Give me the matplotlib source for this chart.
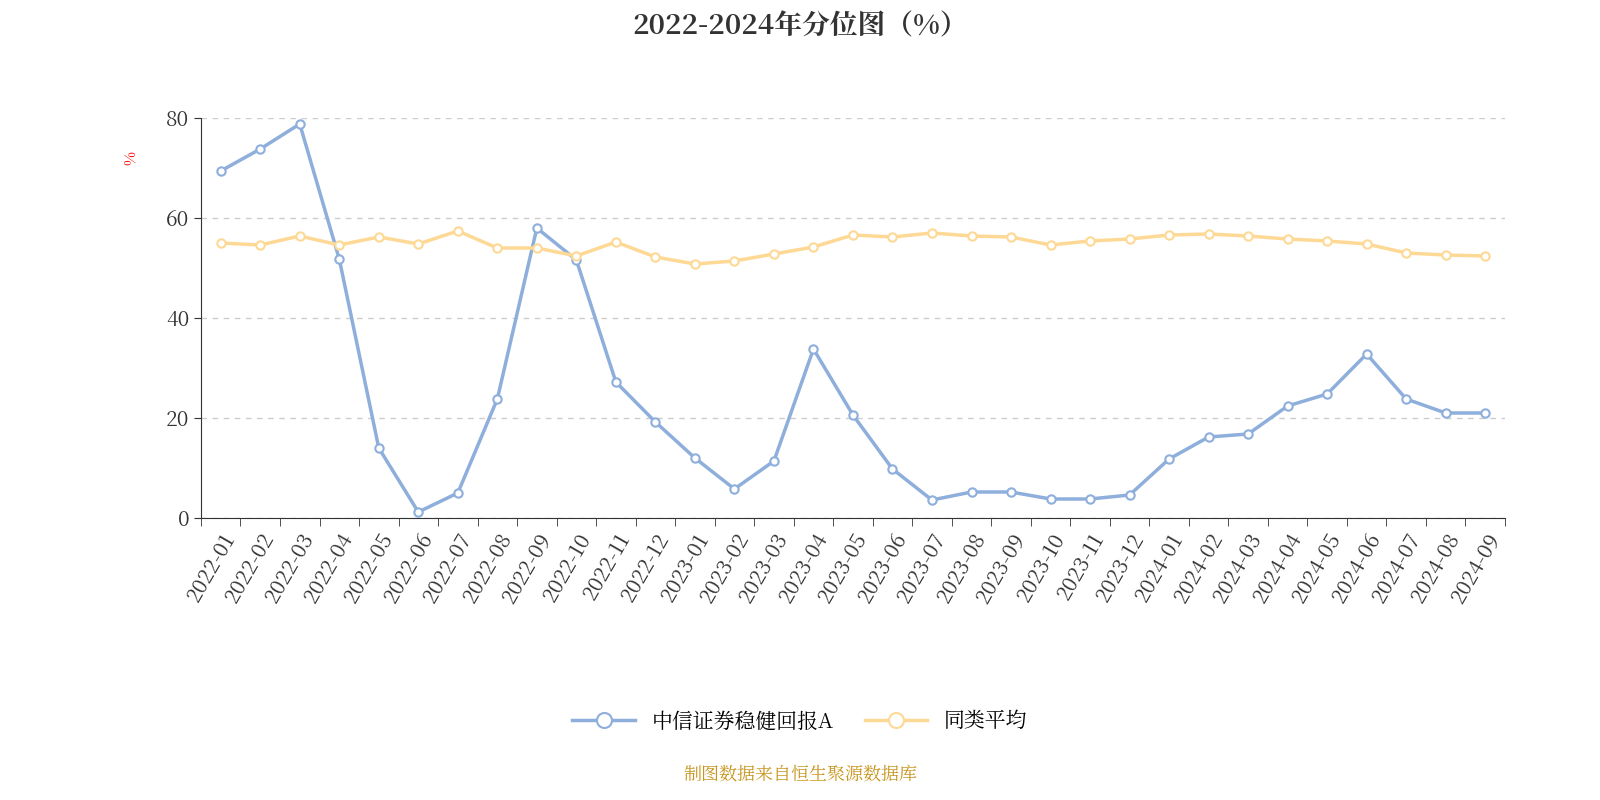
import matplotlib.pyplot as plt
from matplotlib import font_manager
import numpy as np

# pick whatever CJK font is installed
cjk = [f.name for f in font_manager.fontManager.ttflist if 'CJK' in f.name]
if not cjk:
    import glob
    for p in glob.glob('/usr/share/fonts/**/*CJK*', recursive=True):
        font_manager.fontManager.addfont(p)
    cjk = [f.name for f in font_manager.fontManager.ttflist if 'CJK' in f.name]
pref = [n for n in cjk if 'SC' in n] or cjk
plt.rcParams['font.family'] = 'sans-serif'
plt.rcParams['font.sans-serif'] = pref[:1] + ['DejaVu Sans']

months = ['2022-%02d' % m for m in range(1, 13)] + ['2023-%02d' % m for m in range(1, 13)] + ['2024-%02d' % m for m in range(1, 10)]
fund = [69.4, 73.8, 78.8, 51.8, 14.0, 1.2, 5.0, 23.8, 58.0, 51.6, 27.2, 19.2,
        12.0, 5.8, 11.4, 33.8, 20.6, 9.8, 3.6, 5.2, 5.2, 3.8, 3.8, 4.6,
        11.8, 16.2, 16.8, 22.4, 24.8, 32.8, 23.8, 21.0, 21.0]
peer = [55.0, 54.6, 56.4, 54.6, 56.2, 54.8, 57.4, 54.0, 54.0, 52.4, 55.2, 52.2,
        50.8, 51.4, 52.8, 54.2, 56.6, 56.2, 57.0, 56.4, 56.2, 54.6, 55.4, 55.8,
        56.6, 56.8, 56.4, 55.8, 55.4, 54.8, 53.0, 52.6, 52.4]

fig = plt.figure(figsize=(16, 8), dpi=100)
ax = fig.add_axes([0.1256, 0.3525, 0.815, 0.5])
x = np.arange(len(months))
ax.plot(x, fund, color='#8eaedb', lw=2.5, marker='o', ms=6, mfc='white', mec='#8eaedb', mew=1.5, label='中信证券稳健回报A', zorder=3)
ax.plot(x, peer, color='#fdd995', lw=2.5, marker='o', ms=6, mfc='white', mec='#fdd995', mew=1.5, label='同类平均', zorder=3)

ax.set_xlim(-0.5, len(months) - 0.5)
ax.set_ylim(0, 80)
ax.set_yticks([0, 20, 40, 60, 80])
ax.yaxis.grid(True, ls=(0, (4, 4)), color='#cccccc', lw=1)
ax.set_xticks(x)
ax.set_xticklabels(months, rotation=60, ha='right', rotation_mode='anchor', fontsize=15, color='#333333')
ax.set_xticks(np.arange(-0.5, len(months)), minor=True)
ax.tick_params(axis='x', which='major', length=0, pad=8)
ax.tick_params(axis='x', which='minor', length=6, color='#333333')
ax.tick_params(axis='y', labelsize=15, labelcolor='#333333', length=5, color='#333333')
for s in ['top', 'right']:
    ax.spines[s].set_visible(False)
ax.spines['left'].set_color('#333333')
ax.spines['bottom'].set_color('#333333')
ax.set_ylabel('%', color='red', fontsize=11, rotation=90)
ax.yaxis.set_label_coords(-0.048, 0.9)

fig.suptitle('2022-2024年分位图（%）', y=0.985, fontsize=20, fontweight='bold', color='#333333')
fig.legend(loc='center', bbox_to_anchor=(0.5, 0.098), ncol=2, frameon=False, fontsize=15,
           markerscale=1.8, handlelength=3, columnspacing=1.5)
fig.text(0.5, 0.032, '制图数据来自恒生聚源数据库', ha='center', va='center', fontsize=13, color='#c8961e')
fig.savefig('out.png')
